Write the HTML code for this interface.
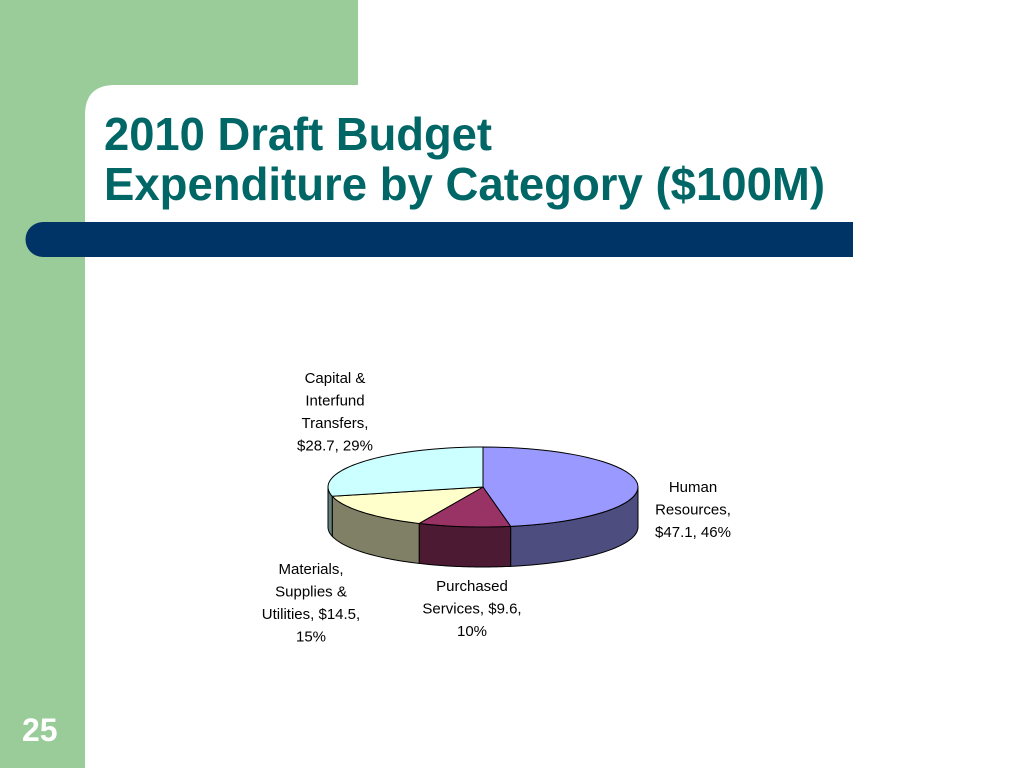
<!DOCTYPE html>
<html><head><meta charset="utf-8"><style>
html,body{margin:0;padding:0;background:#fff;}
svg{display:block;font-family:"Liberation Sans",sans-serif;}
</style></head><body>
<svg id="s" width="1024" height="768" viewBox="0 0 1024 768">
<rect x="0" y="0" width="1024" height="768" fill="#fff"/>
<rect x="0" y="0" width="358" height="115" fill="#99cc99"/>
<rect x="0" y="0" width="85" height="768" fill="#99cc99"/>
<path d="M85,768 L85,115 Q85,85 115,85 L358,85 L358,115 L1024,115 L1024,768 Z" fill="#fff"/>
<rect x="358" y="0" width="666" height="115" fill="#fff"/>
<text x="104" y="150" font-size="46" font-weight="bold" fill="#006666" textLength="388" lengthAdjust="spacingAndGlyphs">2010 Draft Budget</text>
<text x="104" y="200" font-size="46" font-weight="bold" fill="#006666" textLength="721" lengthAdjust="spacingAndGlyphs">Expenditure by Category ($100M)</text>
<path d="M43,222 L853,222 L853,257 L43,257 A17.5,17.5 0 0 1 43,222 Z" fill="#003366"/>
<text x="22" y="741" font-size="32" font-weight="bold" fill="#fff">25</text>
<g id="pie"></g>
<g id="labels" font-size="15" fill="#000" text-anchor="middle"></g>
</svg>
<script>
const categories = ["Human Resources","Purchased Services","Materials, Supplies & Utilities","Capital & Interfund Transfers"];
const values = [47.1, 9.6, 14.5, 28.7];
const percents = ["46%","10%","15%","29%"];
const topColors = ["#9999ff","#993366","#ffffcc","#ccffff"];
const sideColors = ["#4d4d80","#4d1a33","#808066","#668080"];
const labelLines = [
  ["Human","Resources,","$47.1, 46%"],
  ["Purchased","Services, $9.6,","10%"],
  ["Materials,","Supplies &","Utilities, $14.5,","15%"],
  ["Capital &","Interfund","Transfers,","$28.7, 29%"]
];
const cx=483, cy=487, rx=155, ry=40, depth=40;
const labelPos=[[693,492],[472,591],[311,574],[335,383]];
const NS="http://www.w3.org/2000/svg";
const pie=document.getElementById('pie');
function pt(t,dy){return [cx+rx*Math.sin(t), cy-ry*Math.cos(t)+(dy||0)];}
function arc(a,b,dy){let s="";const n=40;for(let i=0;i<=n;i++){const t=a+(b-a)*i/n;const p=pt(t,dy);s+=(i?"L":"")+p[0].toFixed(2)+","+p[1].toFixed(2);}return s;}
const total=values.reduce((a,b)=>a+b,0);
let angles=[];let acc=0;
values.forEach(v=>{const a=acc/total*2*Math.PI;acc+=v;angles.push([a,acc/total*2*Math.PI]);});
angles.forEach((ab,i)=>{
  const a=Math.max(ab[0],Math.PI/2), b=Math.min(ab[1],Math.PI*1.5);
  if(b<=a) return;
  const p=document.createElementNS(NS,'path');
  const back="L"+arc(b,a,depth);
  p.setAttribute('d',"M"+arc(a,b,0)+back+"Z");
  p.setAttribute('fill',sideColors[i]);p.setAttribute('stroke','#000');p.setAttribute('stroke-width','1');
  
  
  pie.appendChild(p);
});
angles.forEach((ab,i)=>{
  const p=document.createElementNS(NS,'path');
  p.setAttribute('d',"M"+cx+","+cy+"L"+arc(ab[0],ab[1],0)+"Z");
  p.setAttribute('fill',topColors[i]);p.setAttribute('stroke','#000');p.setAttribute('stroke-width','1');
  
  
  pie.appendChild(p);
});
const lg=document.getElementById('labels');
labelLines.forEach((lines,i)=>{
  const t=document.createElementNS(NS,'text');
  
  
  lines.forEach((l,j)=>{const s=document.createElementNS(NS,'tspan');s.setAttribute('x',labelPos[i][0]);s.setAttribute('y',labelPos[i][1]+j*22.5);s.textContent=l;t.appendChild(s);});
  lg.appendChild(t);
});
</script>
</body></html>
